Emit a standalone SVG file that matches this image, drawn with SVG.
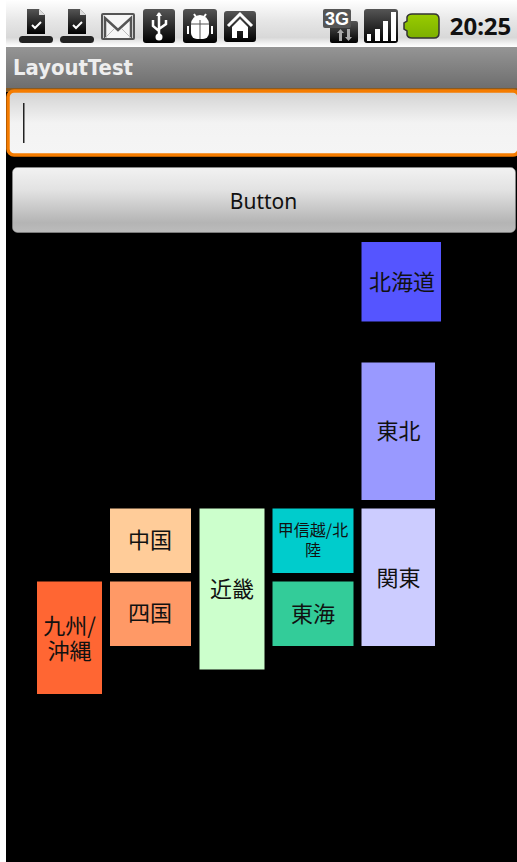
<svg xmlns="http://www.w3.org/2000/svg" width="517" height="862" viewBox="0 0 517 862">
<defs>
<linearGradient id="sb" x1="0" y1="0" x2="0" y2="1"><stop offset="0" stop-color="#fff"/><stop offset=".45" stop-color="#e6e6e6"/><stop offset=".8" stop-color="#d8d8d8"/><stop offset=".93" stop-color="#f4f4f4"/><stop offset="1" stop-color="#fff"/></linearGradient>
<linearGradient id="tb" x1="0" y1="0" x2="0" y2="1"><stop offset="0" stop-color="#959595"/><stop offset="1" stop-color="#6e6e6e"/></linearGradient>
<linearGradient id="ed" x1="0" y1="0" x2="0" y2="1"><stop offset="0" stop-color="#d2d2d2"/><stop offset=".5" stop-color="#f3f3f3"/><stop offset="1" stop-color="#f5f5f5"/></linearGradient>
<linearGradient id="bt" x1="0" y1="0" x2="0" y2="1"><stop offset="0" stop-color="#f2f2f2"/><stop offset=".35" stop-color="#e2e2e2"/><stop offset=".85" stop-color="#b4b4b4"/><stop offset="1" stop-color="#bcbcbc"/></linearGradient>
<linearGradient id="ic" x1="0" y1="0" x2="0" y2="1"><stop offset="0" stop-color="#555"/><stop offset="1" stop-color="#000"/></linearGradient>
<linearGradient id="bat" x1="0" y1="0" x2="0" y2="1"><stop offset="0" stop-color="#9c0"/><stop offset="1" stop-color="#7cb000"/></linearGradient>
<g id="dl"><path d="M27 9h12l6 6v19H27z" fill="url(#ic)"/><path d="M39 9l6 6h-6z" fill="#ddd"/><path d="M32 25l3 3 6-6" fill="none" stroke="#fff" stroke-width="2"/><rect x="19" y="36" width="34" height="7" rx="3.500" fill="#222"/></g>
</defs>
<style>
text{font-family:"Noto Sans CJK JP","Noto Sans","DejaVu Sans",sans-serif;fill:#111;text-anchor:middle}
.l{font-size:22px}
.ic{fill:url(#ic)}
</style>
<rect width="517" height="862" fill="#fff"/>
<rect x="6" y="0" width="511" height="862" fill="#000"/>
<rect x="0" y="0" width="517" height="47" fill="url(#sb)"/>
<rect x="0" y="0" width="6" height="862" fill="#fff"/>
<g id="status-bar">
<use href="#dl"/>
<use href="#dl" x="41"/>
<g id="gmail"><rect x="101" y="13" width="34" height="27" rx="2" fill="#555"/><rect x="103" y="15" width="30" height="23" fill="#f6f6f6"/><path d="M105 38V18l13 12 13-12v20" fill="none" stroke="#555" stroke-width="2.500"/><path d="M105 38l9-9M131 38l-9-9" stroke="#bbb" stroke-width="1"/></g>
<g id="usb"><rect x="143" y="9" width="32" height="34" rx="3" class="ic"/><path d="M159 13v22M153 20v6l6 5M166 20v4l-7 5" fill="none" stroke="#fff" stroke-width="2.500"/><circle cx="159" cy="37" r="3.500" fill="#fff"/><path d="M159 12l-3 4h6z" fill="#fff"/></g>
<g id="android"><rect x="183" y="9" width="34" height="34" rx="3" class="ic"/><path d="M191 24a9 9 0 0 1 18 0v9a6 6 0 0 1-6 6h-6a6 6 0 0 1-6-6z" fill="#fff"/><path d="M200 20v19M191 24h18" stroke="#555" stroke-width="1"/><path d="M194 14l2 3M206 14l-2 3M188 26v8M212 26v8" stroke="#fff" stroke-width="2"/></g>
<g id="home"><rect x="224" y="11" width="32" height="31" rx="3" class="ic"/><path d="M228 26l12-12 12 12" fill="none" stroke="#fff" stroke-width="3"/><path d="M232 27l8-8 8 8v11h-5v-7h-6v7h-5z" fill="#fff"/></g>
<g id="net"><rect x="330" y="21" width="28" height="22" rx="2" class="ic"/><rect x="323" y="9" width="28" height="19" rx="2" fill="#555"/><text x="337" y="25" style="font-size:18px;font-weight:700;fill:#fff;font-family:'Liberation Sans',sans-serif">3G</text><path d="M339 41v-8h-2l3.500-4 3.500 4h-2v8zM347 29v8h-2l3.500 4 3.500-4h-2v-8z" fill="#aaa"/></g>
<g id="signal"><rect x="364" y="9" width="34" height="34" rx="3" class="ic"/><path d="M367 41v-7h4v7zM375 41V29h5v12zM383 41V21h5v20zM391 41V12h5v29z" fill="#fff"/></g>
<g id="battery"><path d="M412 14h22q5 0 5 5v14q0 5-5 5h-22q-4 0-5-3v-4l-3-2v-6l3-2v-4q1-3 5-3z" fill="url(#bat)" stroke="#333" stroke-width="1.500"/></g>
<text x="480.500" y="35" style="font-size:24px;font-weight:700;font-family:'Noto Sans',sans-serif">20:25</text>
</g>
<g id="title-bar"><rect x="6" y="47" width="511" height="41" fill="url(#tb)"/><text x="73" y="75" textLength="120" lengthAdjust="spacingAndGlyphs" style="font-size:21px;font-weight:700;fill:#eee;font-family:'DejaVu Sans',sans-serif">LayoutTest</text></g>
<g id="edit-text"><rect x="6" y="88" width="511" height="4" fill="#8a5a20"/><rect x="8" y="91" width="511" height="64" rx="6" fill="url(#ed)" stroke="#f57c00" stroke-width="3.500"/><rect x="23" y="103" width="1.500" height="40" fill="#222"/></g>
<g id="button"><rect x="12.500" y="167.500" width="503" height="65" rx="5" fill="url(#bt)" stroke="#999" stroke-width=".5"/><text x="263.500" y="208.500" style="font-size:21px;font-family:'Noto Sans',sans-serif">Button</text></g>
<g id="hokkaido"><rect x="361.500" y="242" width="79.500" height="79.500" fill="#55f"/><text class="l" x="402" y="290">北海道</text></g>
<g id="tohoku"><rect x="361.500" y="362.500" width="73.500" height="137.500" fill="#99f"/><text class="l" x="398.500" y="439">東北</text></g>
<g id="kanto"><rect x="361.500" y="508.500" width="73.500" height="137.500" fill="#ccf"/><text class="l" x="398.500" y="586">関東</text></g>
<g id="koshinetsu"><rect x="272.500" y="508.500" width="81" height="64.500" fill="#0cc"/><text style="font-size:16px"><tspan x="313" y="536">甲信越/北</tspan><tspan x="313" y="556">陸</tspan></text></g>
<g id="tokai"><rect x="272.500" y="581.500" width="81" height="64.500" fill="#3c9"/><text class="l" x="313" y="622">東海</text></g>
<g id="kinki"><rect x="199.500" y="508.500" width="65" height="161" fill="#cfc"/><text class="l" x="232" y="597">近畿</text></g>
<g id="chugoku"><rect x="110" y="508.500" width="81" height="64.500" fill="#fc9"/><text class="l" x="150" y="548">中国</text></g>
<g id="shikoku"><rect x="110" y="581.500" width="81" height="64.500" fill="#f96"/><text class="l" x="150" y="621">四国</text></g>
<g id="kyushu"><rect x="37" y="581.500" width="65" height="112.500" fill="#f63"/><text class="l"><tspan x="69.500" y="634">九州/</tspan><tspan x="69.500" y="659">沖縄</tspan></text></g>
</svg>
